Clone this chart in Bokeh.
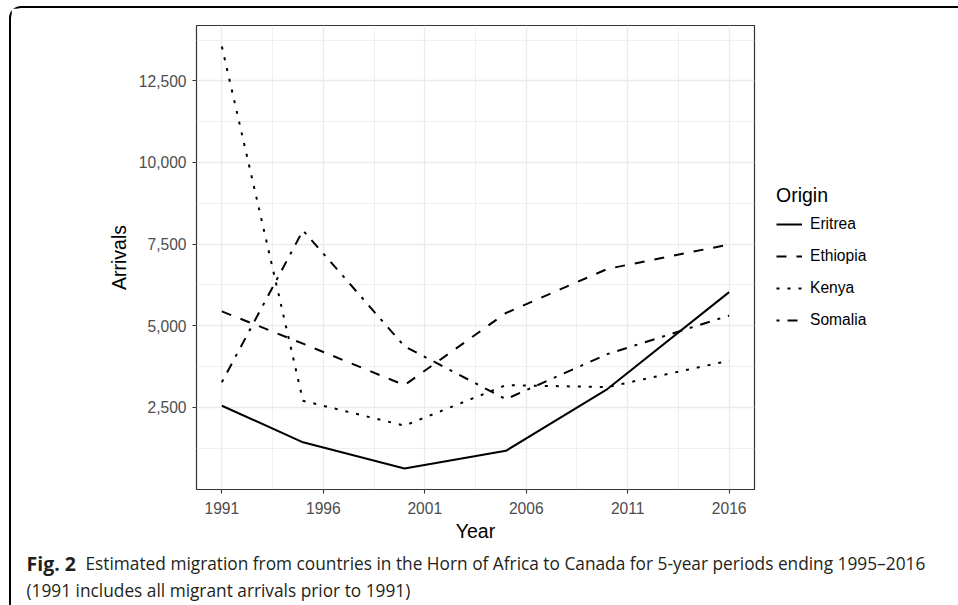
from bokeh.plotting import figure
from bokeh.layouts import column
from bokeh.models import (Legend, LegendItem, FixedTicker, NumeralTickFormatter, Range1d)
from bokeh.core.properties import value
from bokeh.embed import file_html
from bokeh.resources import INLINE

# ---- data ----
years = [1991, 1995, 2000, 2005, 2010, 2016]
eritrea = [2550, 1430, 630, 1170, 3060, 6030]
ethiopia = [5440, 4450, 3180, 5390, 6740, 7490]
kenya = [13550, 2700, 1940, 3180, 3120, 3930]
somalia = [3270, 7920, 4370, 2750, 4130, 5310]
origins = ["Eritrea", "Ethiopia", "Kenya", "Somalia"]
x_ticks = [1991, 1996, 2001, 2006, 2011, 2016]
y_ticks = [2500, 5000, 7500, 10000, 12500]
caption_bold = "Fig. 2"
caption_line1 = "Estimated migration from countries in the Horn of Africa to Canada for 5-year periods ending 1995\u20132016"
caption_line2 = "(1991 includes all migrant arrivals prior to 1991)"

series = [eritrea, ethiopia, kenya, somalia]
dashes = ["solid", "10 10", "3 8", "3 8 10 8"]

CW = 953                    # content width inside the rounded border
FL, FT, FW, FH = 185, 17, 558, 464
BOTTOM = 56
CAP_H = 60

# ggplot-like 5% expansion
allv = [v for s in series for v in s]
ymin, ymax = min(allv), max(allv)
ypad = 0.05 * (ymax - ymin)
xmin, xmax = min(years), max(years)
xpad = 0.05 * (xmax - xmin)

p = figure(frame_width=FW, frame_height=FH, output_backend="svg", toolbar_location=None,
           x_range=Range1d(xmin - xpad, xmax + xpad),
           y_range=Range1d(ymin - ypad, ymax + ypad),
           min_border_left=FL, min_border_top=FT, min_border_right=CW - FL - FW,
           min_border_bottom=BOTTOM, frame_align=False)
p.background_fill_color = "white"
p.border_fill_color = "white"
p.outline_line_color = "#333333"
p.outline_line_width = 1.2

x_minor = [(a + b) / 2 for a, b in zip(x_ticks[:-1], x_ticks[1:])]
step = y_ticks[1] - y_ticks[0]
y_minor = [y_ticks[0] - step / 2] + [t + step / 2 for t in y_ticks]

p.xaxis.ticker = FixedTicker(ticks=x_ticks, minor_ticks=x_minor)
p.yaxis.ticker = FixedTicker(ticks=y_ticks, minor_ticks=y_minor)
p.yaxis.formatter = NumeralTickFormatter(format="0,0")

for ax in (p.xaxis, p.yaxis):
    ax.axis_line_color = None
    ax.major_tick_line_color = "#333333"
    ax.major_tick_line_width = 1.1
    ax.major_tick_out = 4
    ax.major_tick_in = 0
    ax.minor_tick_line_color = None
    ax.major_label_text_font = "Liberation Sans"
    ax.major_label_text_font_size = "15.6px"
    ax.major_label_text_color = "#4D4D4D"
    ax.axis_label_text_font = "Liberation Sans"
    ax.axis_label_text_font_size = "19.5px"
    ax.axis_label_text_font_style = "normal"
    ax.axis_label_text_color = "black"

p.xaxis.axis_label = "Year"
p.yaxis.axis_label = "Arrivals"
p.xaxis.major_label_standoff = 8
p.yaxis.major_label_standoff = 6
p.xaxis.axis_label_standoff = 3
p.yaxis.axis_label_standoff = 6

for g in (p.xgrid, p.ygrid):
    g.grid_line_color = "#EBEBEB"
    g.grid_line_width = 1.3
    g.minor_grid_line_color = "#EBEBEB"
    g.minor_grid_line_width = 0.8
p.xgrid.ticker = p.xaxis.ticker
p.ygrid.ticker = p.yaxis.ticker

items = []
for name, vals, dash in zip(origins, series, dashes):
    r = p.line(years, vals, line_color="black", line_width=2, line_dash=dash,
               line_join="round")
    items.append(LegendItem(label=name, renderers=[r]))

legend = Legend(items=items, title="Origin", location="center_left",
                border_line_color=None, background_fill_color="white",
                title_text_font="Liberation Sans", title_text_font_size="19.5px",
                title_text_font_style="normal", title_text_color="black",
                label_text_font="Liberation Sans", label_text_font_size="15.6px",
                label_text_color="black",
                glyph_width=26, glyph_height=20, label_height=20,
                spacing=12, label_standoff=8, margin=22, padding=10,
                title_standoff=7)
p.add_layout(legend, "right")

# ---- caption as its own small figure (frame = whole canvas) ----
cap = figure(frame_width=CW, frame_height=CAP_H, output_backend="svg",
             toolbar_location=None,
             x_range=Range1d(0, CW), y_range=Range1d(CAP_H, 0),
             min_border=0, x_axis_type=None, y_axis_type=None, frame_align=False)
cap.outline_line_color = None
cap.grid.grid_line_color = None
cap.background_fill_color = "white"
cap.border_fill_color = "white"

cap_font = value("Open Sans")
cap_color = "#231F20"
cap.text(x=[15], y=[18], text=[caption_bold], text_font=cap_font,
         text_font_size="19.5px", text_font_style="bold", text_color=cap_color,
         text_baseline="alphabetic")
cap.text(x=[74, 15], y=[18, 45], text=[caption_line1, caption_line2],
         text_font=cap_font, text_font_size="17.3px", text_color=cap_color,
         text_baseline="alphabetic")

layout = column(p, cap, spacing=0,
                styles={"border-top": "2px solid black",
                        "border-left": "2px solid black",
                        "border-right": "none", "border-bottom": "none",
                        "border-radius": "12px 0 0 0",
                        "margin-left": "9px", "margin-top": "6px"})

open("out.html", "w").write(file_html(layout, INLINE))
